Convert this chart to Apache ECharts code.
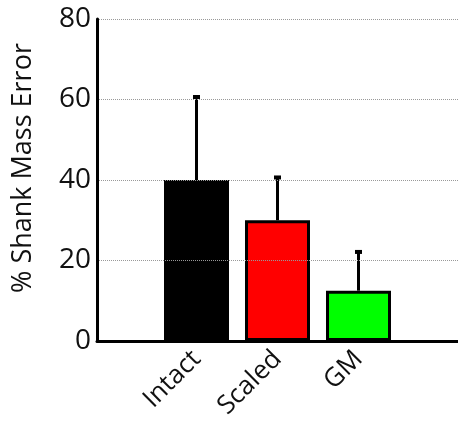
<!DOCTYPE html>
<html><head><meta charset="utf-8">
<script src="https://cdn.jsdelivr.net/npm/echarts@6/dist/echarts.min.js"></script>
<style>html,body{margin:0;padding:0;background:#fff}#c{width:458px;height:431px}</style>
</head><body><div id="c"></div>
<script>
const categories = ['Intact', 'Scaled', 'GM'];
const means = [40, 30, 12.5];
const errors = [21, 11, 10];
const barColors = ['#000000', '#ff0000', '#00ff00'];
const yTicks = [0, 20, 40, 60, 80];
const yName = '% Shank Mass Error';

const chart = echarts.init(document.getElementById('c'));
const font = 'Open Sans';
chart.setOption({
  animation: false,
  grid: [
    {left: 97, right: 0, top: 19, bottom: 90},
    {left: 156, width: 243, top: 19, bottom: 90}
  ],
  xAxis: [
    {gridIndex: 0, type: 'category', data: [''], axisLine: {lineStyle: {color: '#000', width: 3}},
     axisTick: {show: false}, axisLabel: {show: false}, z: 10},
    {gridIndex: 1, type: 'category', data: categories,
     axisLine: {show: false}, axisTick: {show: false},
     axisLabel: {rotate: 45, fontSize: 26, fontFamily: font, color: '#111', margin: 14, interval: 0}}
  ],
  yAxis: [
    {gridIndex: 0, type: 'value', min: yTicks[0], max: yTicks[yTicks.length - 1], interval: 20,
     name: yName, nameLocation: 'middle', nameGap: 60, nameRotate: 90,
     nameTextStyle: {fontSize: 27, fontFamily: font, color: '#111', padding: [0, 0, 0, 24]},
     axisLine: {show: true, lineStyle: {color: '#000', width: 3}}, axisTick: {show: false},
     axisLabel: {fontSize: 28, fontFamily: font, color: '#111', margin: 6},
     splitLine: {show: true, lineStyle: {color: '#999', width: 1, type: 'dotted'}}, z: 10},
    {gridIndex: 1, type: 'value', min: yTicks[0], max: yTicks[yTicks.length - 1], interval: 20, show: false}
  ],
  series: [
    {type: 'bar', xAxisIndex: 1, yAxisIndex: 1, barWidth: 65,
     data: means.map((v, i) => ({value: v, itemStyle: {color: barColors[i], borderColor: '#000', borderWidth: 3}}))},
    {type: 'custom', xAxisIndex: 1, yAxisIndex: 1, z: 5,
     data: means.map((v, i) => [i, v, v + errors[i]]),
     renderItem: function (params, api) {
       const base = api.coord([api.value(0), api.value(1)]);
       const top = api.coord([api.value(0), api.value(2)]);
       return {type: 'group', children: [
         {type: 'line', shape: {x1: base[0], y1: base[1], x2: top[0], y2: top[1] + 1},
          style: {stroke: '#000', lineWidth: 3}},
         {type: 'line', shape: {x1: top[0] - 3.5, y1: top[1] + 1.5, x2: top[0] + 3.5, y2: top[1] + 1.5},
          style: {stroke: '#000', lineWidth: 4}}
       ]};
     }}
  ]
});
</script></body></html>
